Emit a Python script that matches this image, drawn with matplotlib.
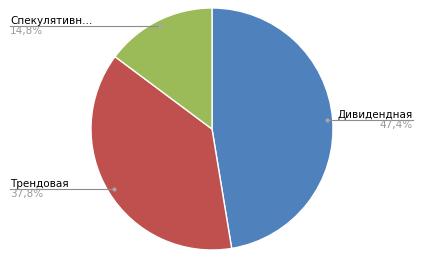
import numpy as np
import matplotlib
matplotlib.use("Agg")
import matplotlib.pyplot as plt
from matplotlib.transforms import blended_transform_factory

labels = ["Дивидендная", "Трендовая", "Спекулятивн..."]
values = [47.4, 37.8, 14.8]
pct_text = ["47,4%", "37,8%", "14,8%"]
colors = ["#4F81BD", "#C0504D", "#9BBB59"]

W, H = 424, 261
fig = plt.figure(figsize=(W / 100, H / 100), dpi=100)
cx, cy, r = 212, 132, 121
ax = fig.add_axes([(cx - r) / W, (cy - r) / H, 2 * r / W, 2 * r / H])
ax.pie(values, colors=colors, startangle=90, counterclock=False,
       wedgeprops=dict(edgecolor="white", linewidth=1))
ax.set_xlim(-1, 1)
ax.set_ylim(-1, 1)
ax.set_aspect("equal")
ax.axis("off")

# label layout: x end of leader line (px), side
ends = [(413, "right"), (10, "left"), (10, "left")]
trans = blended_transform_factory(fig.transFigure, ax.transData)

start = 90.0
total = sum(values)
for lab, v, pt, (xe, side) in zip(labels, values, pct_text, ends):
    span = v / total * 360
    mid = np.deg2rad(start - span / 2)
    start -= span
    dx, dy = 0.95 * np.cos(mid), 0.95 * np.sin(mid)
    # dot position in figure fraction
    disp = ax.transData.transform((dx, dy))
    fx = fig.transFigure.inverted().transform(disp)[0]
    ax.plot([fx, xe / W], [dy, dy], color="#8C8C8C", lw=0.8,
            transform=trans, clip_on=False)
    ax.plot([dx], [dy], "o", ms=3, color="#A6A6A6", mec="none", clip_on=False)
    ax.text(xe / W, dy, lab, transform=trans, ha=side, va="bottom",
            fontsize=7.5, color="black")
    ax.text(xe / W, dy, pt, transform=trans, ha=side, va="top",
            fontsize=7.5, color="#999999")

fig.savefig("out.png", dpi=100)
